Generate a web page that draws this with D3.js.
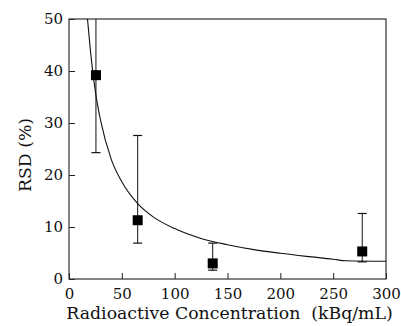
<!DOCTYPE html>
<html><head><meta charset="utf-8">
<script src="https://cdn.jsdelivr.net/npm/d3@7"></script>
<style>body{margin:0;background:#fff}svg{display:block}</style>
</head><body><svg id="c" width="401" height="326"></svg>
<script>
const concentration = [25.5, 65, 136, 277.5];
const rsd = [39.2, 11.3, 3.0, 5.3];
const errLow = [24.3, 6.9, 1.7, 3.3];
const errHigh = [56, 27.6, 6.9, 12.6];
const curveX = [17.5, 20, 25, 30, 40, 50, 65, 80, 100, 125, 150, 175, 200, 225, 250, 262, 300];
const curveY = [50, 44.5, 36, 30.4, 23, 18.7, 14.5, 11.9, 9.7, 7.8, 6.6, 5.65, 4.95, 4.35, 3.8, 3.5, 3.4];
const xTicks = [0, 50, 100, 150, 200, 250, 300];
const yTicks = [0, 10, 20, 30, 40, 50];

const FONT = "DejaVu Serif, serif";
const svg = d3.select("#c");
const L = 69, R = 386, T = 19, B = 279;
const x = d3.scaleLinear().domain([0, 300]).range([L, R]);
const y = d3.scaleLinear().domain([0, 50]).range([B, T]);
const fs = 15, tfs = 17.3;

svg.append("defs").append("clipPath").attr("id","clip")
  .append("rect").attr("x",L).attr("y",T).attr("width",R-L).attr("height",B-T);

const xa = svg.append("g").attr("transform",`translate(0,${B})`)
  .call(d3.axisBottom(x).tickValues(xTicks).tickSizeInner(-6).tickSizeOuter(0).tickPadding(9));
const ya = svg.append("g").attr("transform",`translate(${L},0)`)
  .call(d3.axisLeft(y).tickValues(yTicks).tickSizeInner(-6).tickSizeOuter(0).tickPadding(6));
[xa, ya].forEach(g => {
  g.attr("font-family", FONT).attr("font-size", fs);
  g.select(".domain").remove();
  g.selectAll("line").attr("stroke","#222");
  g.selectAll("text").attr("fill","#111");
});
xa.selectAll("text").attr("dy","0.71em");

svg.append("rect").attr("x",L).attr("y",T).attr("width",R-L).attr("height",B-T)
  .attr("fill","none").attr("stroke","#333").attr("stroke-width",1.2);

const g = svg.append("g").attr("clip-path","url(#clip)");
const pts = curveX.map((v,i)=>[v,curveY[i]]);
g.append("path").datum(pts)
  .attr("d", d3.line().x(d=>x(d[0])).y(d=>y(d[1])).curve(d3.curveMonotoneX))
  .attr("fill","none").attr("stroke","#111").attr("stroke-width",1.1);

const data = concentration.map((c,i)=>({c, v:rsd[i], lo:errLow[i], hi:errHigh[i]}));
const eb = g.selectAll(".eb").data(data).enter().append("g");
eb.append("line").attr("x1",d=>x(d.c)).attr("x2",d=>x(d.c)).attr("y1",d=>y(d.lo)).attr("y2",d=>y(d.hi))
  .attr("stroke","#111").attr("stroke-width",1);
eb.append("line").attr("x1",d=>x(d.c)-4.5).attr("x2",d=>x(d.c)+4.5).attr("y1",d=>y(d.lo)).attr("y2",d=>y(d.lo))
  .attr("stroke","#111").attr("stroke-width",1.2);
eb.append("line").attr("x1",d=>x(d.c)-4.5).attr("x2",d=>x(d.c)+4.5).attr("y1",d=>y(d.hi)).attr("y2",d=>y(d.hi))
  .attr("stroke","#111").attr("stroke-width",1.2);
eb.append("rect").attr("x",d=>x(d.c)-5).attr("y",d=>y(d.v)-5).attr("width",10).attr("height",10).attr("fill","#000");

svg.append("text").attr("x",(L+R)/2+2).attr("y",319).attr("text-anchor","middle")
  .attr("font-family",FONT).attr("font-size",tfs).attr("fill","#111").attr("xml:space","preserve")
  .text("Radioactive Concentration  (kBq/mL)");
svg.append("text").attr("transform",`translate(31,155) rotate(-90)`).attr("text-anchor","middle")
  .attr("font-family",FONT).attr("font-size",tfs).attr("fill","#111").text("RSD (%)");
</script></body></html>
